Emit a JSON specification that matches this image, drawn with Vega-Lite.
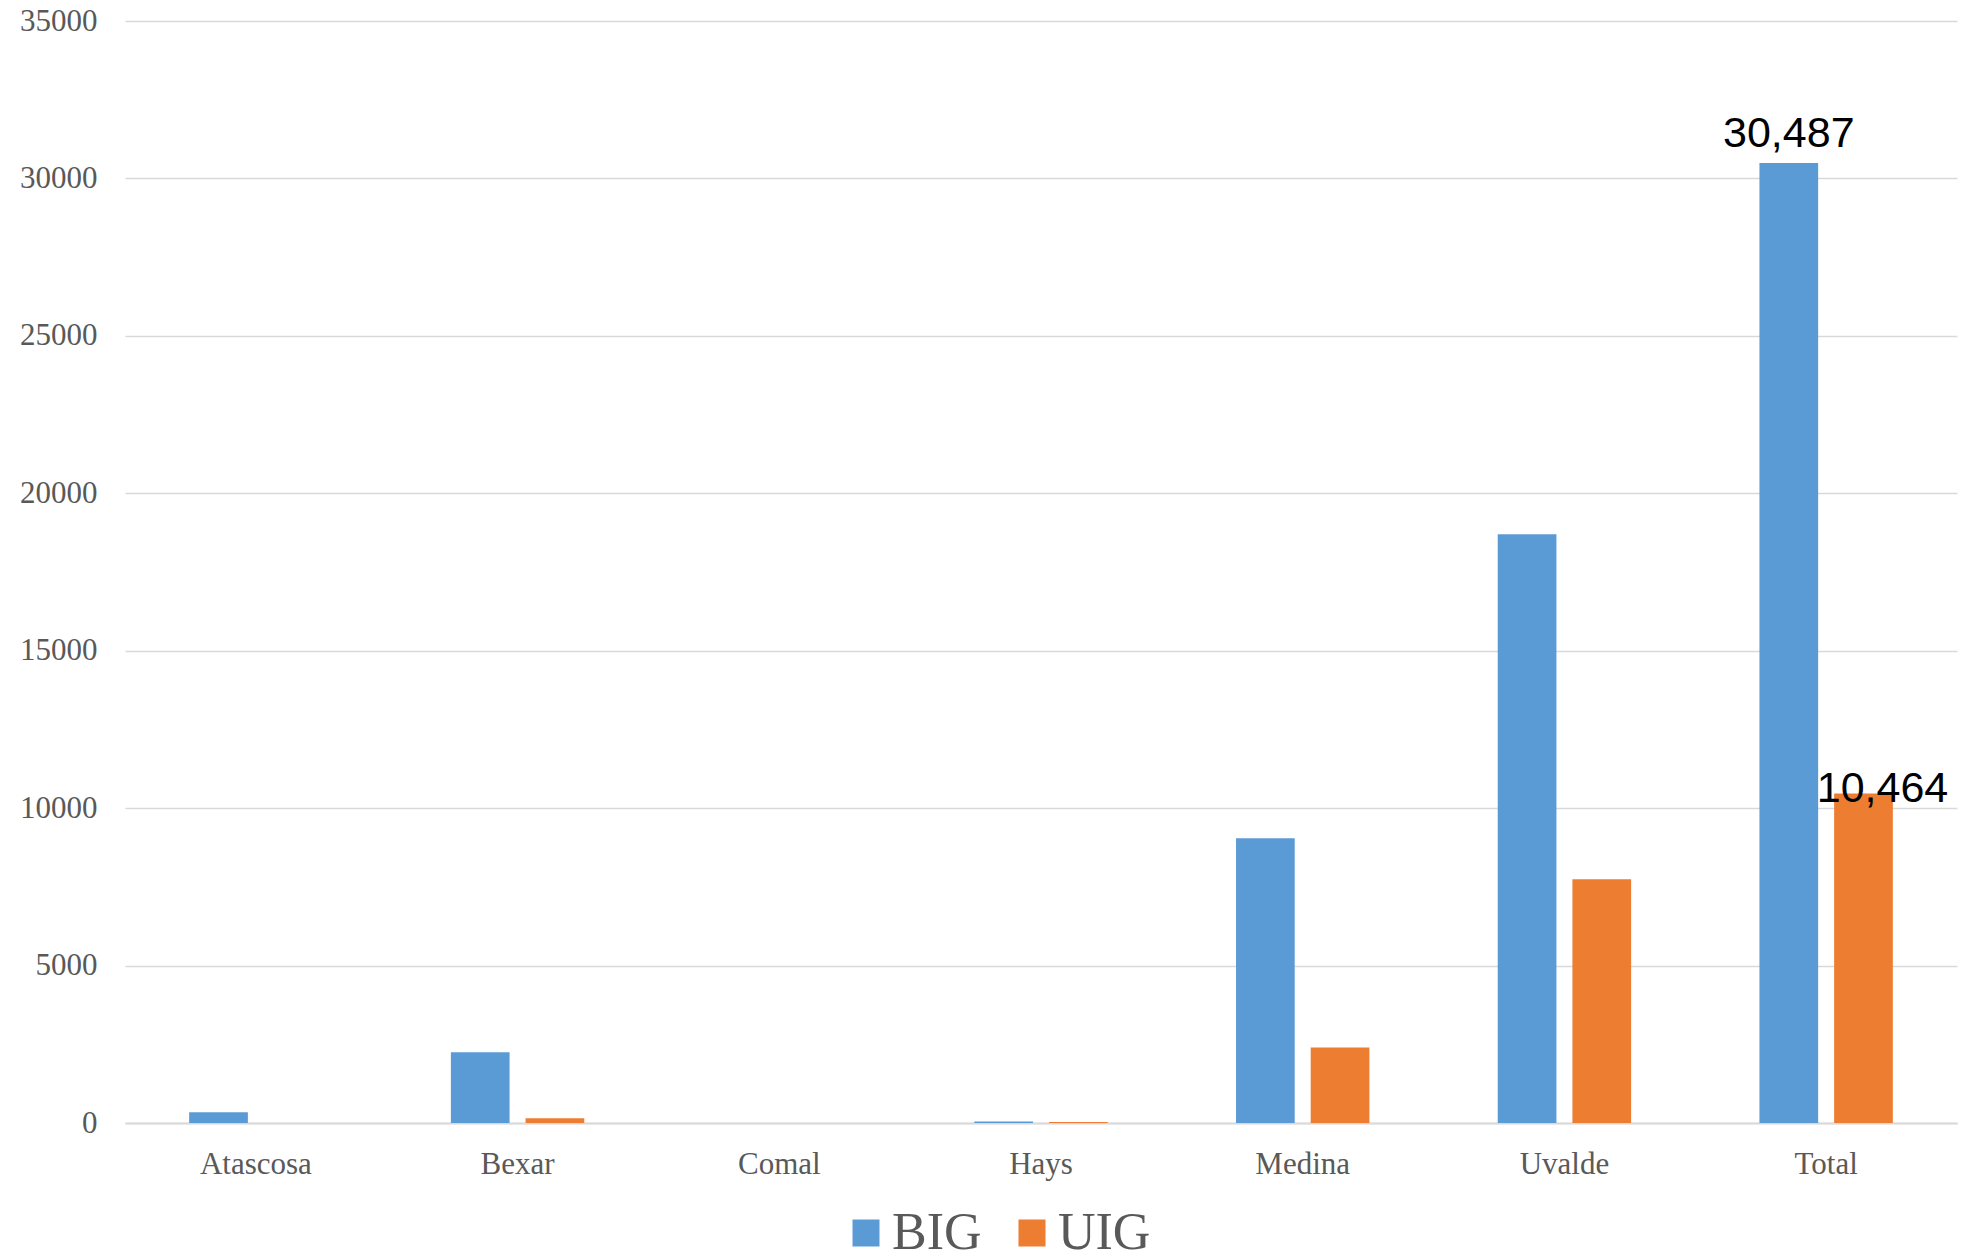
{
  "$schema": "https://vega.github.io/schema/vega-lite/v6.json",
  "width": 1832,
  "height": 1102,
  "autosize": "none",
  "padding": {"left": 125, "top": 21, "right": 10, "bottom": 135},
  "background": "white",
  "config": {"view": {"stroke": null}},
  "data": {
    "values": [
      {"county": "Atascosa", "series": "BIG", "value": 340},
      {"county": "Atascosa", "series": "UIG", "value": 0},
      {"county": "Bexar", "series": "BIG", "value": 2245},
      {"county": "Bexar", "series": "UIG", "value": 150},
      {"county": "Comal", "series": "BIG", "value": 0},
      {"county": "Comal", "series": "UIG", "value": 0},
      {"county": "Hays", "series": "BIG", "value": 50},
      {"county": "Hays", "series": "UIG", "value": 30},
      {"county": "Medina", "series": "BIG", "value": 9040},
      {"county": "Medina", "series": "UIG", "value": 2400},
      {"county": "Uvalde", "series": "BIG", "value": 18700},
      {"county": "Uvalde", "series": "UIG", "value": 7740},
      {"county": "Total", "series": "BIG", "value": 30487},
      {"county": "Total", "series": "UIG", "value": 10464}
    ]
  },
  "encoding": {
    "x": {
      "field": "county",
      "type": "nominal",
      "sort": ["Atascosa", "Bexar", "Comal", "Hays", "Medina", "Uvalde", "Total"],
      "scale": {"paddingInner": 0, "paddingOuter": 0},
      "axis": {
        "title": null,
        "labelAngle": 0,
        "ticks": false,
        "domain": true,
        "domainColor": "#d9d9d9",
        "domainWidth": 2,
        "labelFont": "Liberation Serif",
        "labelFontSize": 31,
        "labelColor": "#595959",
        "labelBaseline": "alphabetic",
        "labelPadding": 50
      }
    },
    "xOffset": {
      "field": "series",
      "type": "nominal",
      "sort": ["BIG", "UIG"],
      "scale": {"paddingInner": 0.214, "paddingOuter": 0.859}
    },
    "y": {
      "field": "value",
      "type": "quantitative",
      "scale": {"domain": [0, 35000], "nice": false},
      "axis": {
        "title": null,
        "values": [0, 5000, 10000, 15000, 20000, 25000, 30000, 35000],
        "format": "d",
        "ticks": false,
        "domain": false,
        "grid": true,
        "gridColor": "#d9d9d9",
        "gridWidth": 1.5,
        "labelFont": "Liberation Serif",
        "labelFontSize": 31,
        "labelColor": "#595959",
        "labelPadding": 28
      }
    }
  },
  "layer": [
    {
      "mark": {"type": "bar"},
      "encoding": {
        "color": {
          "field": "series",
          "type": "nominal",
          "sort": ["BIG", "UIG"],
          "scale": {"domain": ["BIG", "UIG"], "range": ["#5B9BD5", "#ED7D31"]},
          "legend": {
            "title": null,
            "orient": "none",
            "direction": "horizontal",
            "legendX": 715,
            "legendY": 1186,
            "symbolType": "square",
            "symbolSize": 729,
            "symbolStrokeWidth": 0,
            "labelFont": "Liberation Serif",
            "labelFontSize": 52,
            "labelColor": "#595959",
            "labelOffset": 0,
            "columnPadding": 24
          }
        }
      }
    },
    {
      "transform": [{"filter": "datum.county === 'Total' && datum.series === 'BIG'"}],
      "mark": {"type": "text", "font": "Liberation Sans", "fontSize": 43, "color": "black", "baseline": "alphabetic", "align": "center", "dy": -16},
      "encoding": {"text": {"field": "value", "type": "quantitative", "format": ","}}
    },
    {
      "transform": [{"filter": "datum.county === 'Total' && datum.series === 'UIG'"}],
      "mark": {"type": "text", "font": "Liberation Sans", "fontSize": 43, "color": "black", "baseline": "alphabetic", "align": "center", "dx": 19, "dy": 8},
      "encoding": {"text": {"field": "value", "type": "quantitative", "format": ","}}
    }
  ]
}
